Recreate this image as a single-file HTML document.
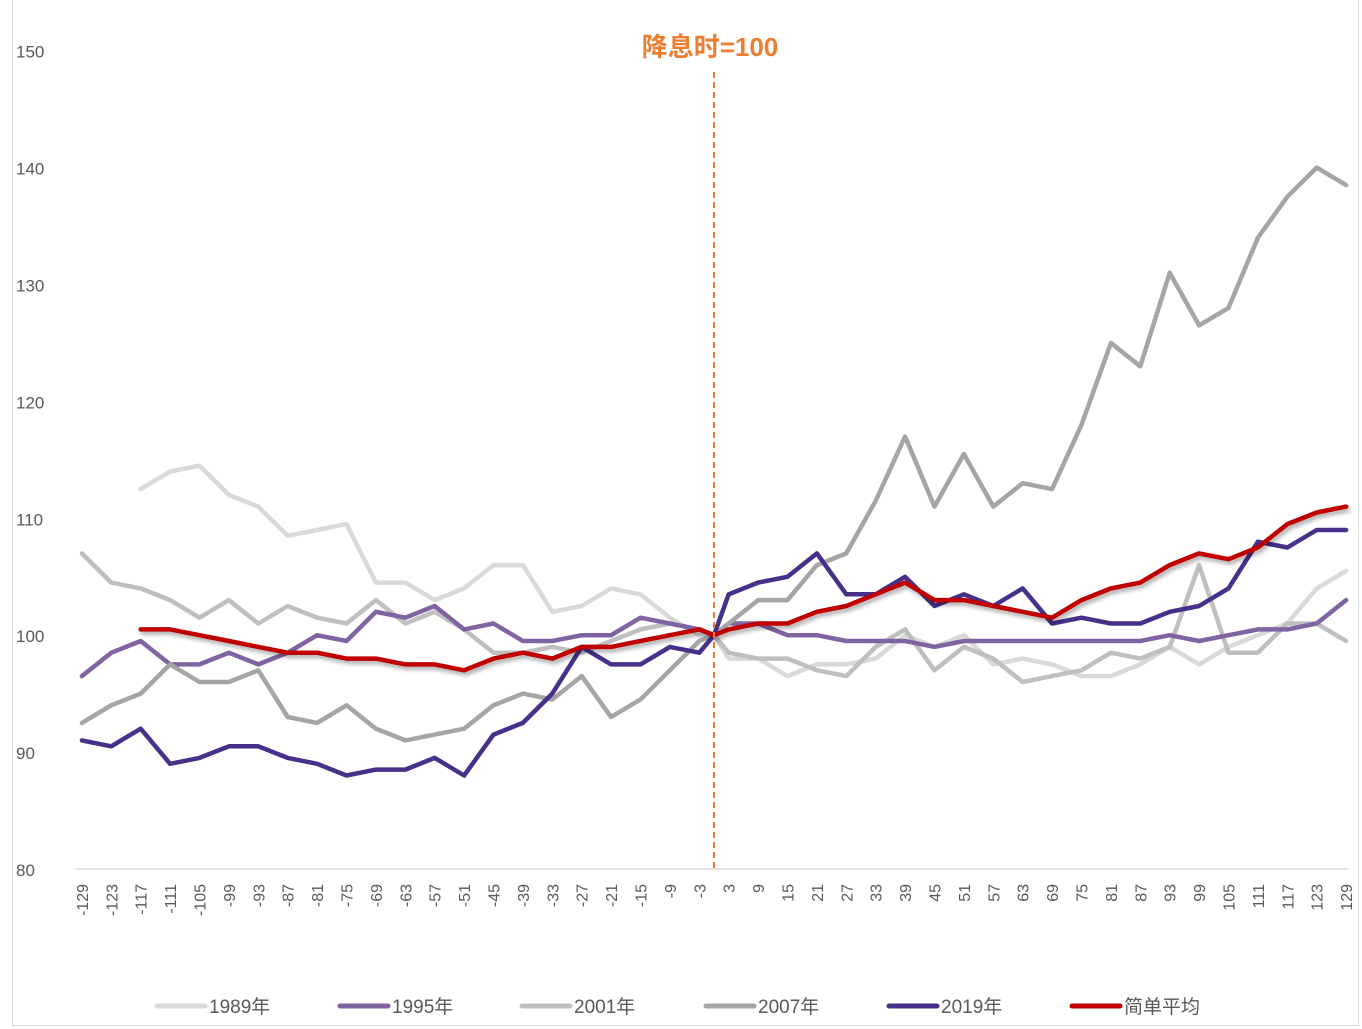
<!DOCTYPE html>
<html><head><meta charset="utf-8"><style>
body{margin:0;background:#fff;}
#wrap{position:relative;width:1362px;height:1029px;overflow:hidden;}
#frame{position:absolute;left:12px;top:-2px;width:1347px;height:1028px;border:1px solid #d9d9d9;box-sizing:border-box;}
text{font-family:"Liberation Sans","Noto Sans CJK SC",sans-serif;}
</style></head><body>
<div id="wrap">
<div id="frame"></div>
<svg id="chart" width="1362" height="1029" style="position:absolute;left:0;top:0">
<defs><filter id="sh" x="-5%" y="-20%" width="110%" height="140%"><feDropShadow dx="2" dy="3" stdDeviation="2" flood-color="#000" flood-opacity="0.35"/></filter></defs>
</svg>
</div>
<script>
const days=[-129,-123,-117,-111,-105,-99,-93,-87,-81,-75,-69,-63,-57,-51,-45,-39,-33,-27,-21,-15,-9,-3,0,3,9,15,21,27,33,39,45,51,57,63,69,75,81,87,93,99,105,111,117,123,129];
const s1989=[null,null,112.5,114,114.5,112,111,108.5,109,109.5,104.5,104.5,103,104,106,106,102,102.5,104,103.5,101.5,100,100,98,98,96.5,97.5,97.5,98,100,99,100,97.5,98,97.5,96.5,96.5,97.5,99,97.5,99,100,101,104,105.5];
const s1995=[96.5,98.5,99.5,97.5,97.5,98.5,97.5,98.5,100,99.5,102,101.5,102.5,100.5,101,99.5,99.5,100,100,101.5,101,100.5,100,101,101,100,100,99.5,99.5,99.5,99,99.5,99.5,99.5,99.5,99.5,99.5,99.5,100,99.5,100,100.5,100.5,101,103];
const s2001=[107,104.5,104,103,101.5,103,101,102.5,101.5,101,103,101,102,100.5,98.5,98.5,99,98.5,99.5,100.5,101,100.5,100,98.5,98,98,97,96.5,99,100.5,97,99,98,96,96.5,97,98.5,98,99,106,98.5,98.5,101,101,99.5];
const s2007=[92.5,94,95,97.5,96,96,97,93,92.5,94,92,91,91.5,92,94,95,94.5,96.5,93,94.5,97,99.5,100,101,103,103,106,107,111.5,117,111,115.5,111,113,112.5,118,125,123,131,126.5,128,134,137.5,140,138.5];
const s2019=[91,90.5,92,89,89.5,90.5,90.5,89.5,89,88,88.5,88.5,89.5,88,91.5,92.5,95,99,97.5,97.5,99,98.5,100,103.5,104.5,105,107,103.5,103.5,105,102.5,103.5,102.5,104,101,101.5,101,101,102,102.5,104,108,107.5,109,109];
const sAvg=[null,null,100.5,100.5,100,99.5,99,98.5,98.5,98,98,97.5,97.5,97,98,98.5,98,99,99,99.5,100,100.5,100,100.5,101,101,102,102.5,103.5,104.5,103,103,102.5,102,101.5,103,104,104.5,106,107,106.5,107.5,109.5,110.5,111];
const yTicks=[80,90,100,110,120,130,140,150];
const xTicks=[];for(let v=-129;v<=129;v+=6){if(v!==0)xTicks.push(v);}
const legendNames=["1989年","1995年","2001年","2007年","2019年","简单平均"];

const NS="http://www.w3.org/2000/svg";
const svg=document.getElementById('chart');
const X=t=>714+4.9*t;
const Y=v=>869-(v-80)*11.69;
function mk(tag,attrs,parent){const e=document.createElementNS(NS,tag);for(const k in attrs)e.setAttribute(k,attrs[k]);(parent||svg).appendChild(e);return e;}

yTicks.forEach(v=>{const t=mk('text',{x:16,y:Y(v)+7,'font-size':17,fill:'#595959'});t.textContent=v;

});
const ax=mk('line',{x1:75,y1:869,x2:1348,y2:869,stroke:'#d9d9d9','stroke-width':1.5});


xTicks.forEach(v=>{const x=X(v)+6;const t=mk('text',{x:0,y:0,'font-size':16,fill:'#595959','text-anchor':'end',transform:`translate(${x},${884}) rotate(-90)`});t.textContent=v;

});

const series=[[s1989,'#d9d9d9'],[s2001,'#bfbfbf'],[s1995,'#8064a2'],[s2007,'#a5a5a5'],[s2019,'#47308a'],[sAvg,'#c00000']];
const snames=['series-1989','series-2001','series-1995','series-2007','series-2019','series-average'];
series.forEach(([vals,col],i)=>{let pts=[];vals.forEach((v,j)=>{if(v!==null)pts.push(X(days[j]).toFixed(1)+','+Y(v).toFixed(1));});
const p=mk('polyline',{points:pts.join(' '),fill:'none',stroke:col,'stroke-width':4.5,'stroke-linejoin':'round','stroke-linecap':'round'});
if(i===5)p.setAttribute('filter','url(#sh)');

});

const dl=mk('line',{x1:714,y1:72,x2:714,y2:869,stroke:'#ed7d31','stroke-width':2,'stroke-dasharray':'6,4'});


const lab=mk('text',{x:710,y:56,'font-size':26,fill:'#ed7d31','text-anchor':'middle','font-weight':'bold'});lab.textContent='降息时=100';



const lcols=['#d9d9d9','#8064a2','#bfbfbf','#a5a5a5','#47308a','#c00000'];
const lx=[157,340,522,706,889,1072];
legendNames.forEach((n,i)=>{const g=mk('g',{});


mk('line',{x1:lx[i],y1:1006,x2:lx[i]+48,y2:1006,stroke:lcols[i],'stroke-width':5,'stroke-linecap':'round'},g);
const t=mk('text',{x:lx[i]+52,y:1013,'font-size':19,fill:'#595959'},g);t.textContent=n;});
</script>
</body></html>
